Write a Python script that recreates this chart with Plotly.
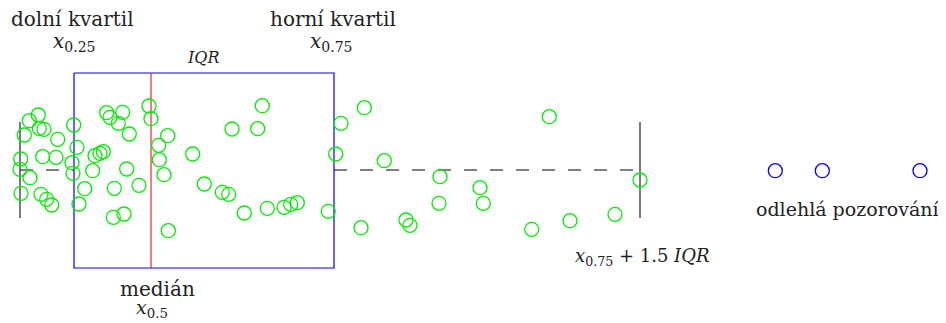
import plotly.graph_objects as go

# jittered observations (x value, vertical jitter) in chart units
obs_x = [38.3, 29.3, 39.3, 44.0, 24.3, 57.7, 20.7, 42.7, 56.0, 20.0, 30.0, 21.0, 41.0, 46.7, 51.7,
         73.7, 77.0, 72.0, 73.0, 84.7, 79.0, 106.7, 110.0, 122.7, 118.3, 129.3, 95.0, 100.0, 103.3,
         92.7, 126.7, 114.3, 139.0, 113.3, 124.0, 149.0, 151.0, 167.7, 158.7, 159.3, 164.0, 168.3,
         192.7, 204.3, 222.3, 228.7, 244.3, 232.0, 257.7, 262.3, 267.3, 284.0, 290.7, 297.3, 328.3,
         335.7, 341.0, 364.3, 384.3, 361.0, 406.0, 410.0, 440.0, 439.0, 480.0, 483.3, 531.7, 549.3,
         570.0, 615.0, 640.0]
obs_y = [115.0, 120.7, 128.3, 129.3, 135.0, 139.3, 159.0, 156.7, 157.3, 169.3, 177.7, 193.3, 194.3, 199.3, 205.0,
         125.0, 147.3, 162.7, 173.3, 188.7, 204.0, 112.7, 117.3, 112.3, 123.3, 134.0, 155.7, 153.3, 151.7,
         170.7, 169.0, 188.3, 185.3, 217.3, 214.0, 106.0, 118.7, 135.7, 145.3, 159.7, 174.7, 230.7,
         154.0, 184.0, 192.3, 194.3, 213.0, 129.0, 128.7, 105.7, 208.3, 207.3, 204.3, 202.7, 211.3,
         154.0, 123.3, 107.7, 160.7, 227.7, 220.0, 225.3, 176.7, 203.3, 187.7, 203.3, 229.3, 116.7,
         220.7, 214.3, 180.0]

outlier_x = [775.3, 822.3, 920.0]
outlier_y = [170.7, 170.7, 170.7]

# box statistics
whisker_low = 20
q1 = 74
median = 151
q3 = 334
whisker_high = 640
center = 170
box_top, box_bottom = 73, 268
whisker_top, whisker_bottom = 122, 218

fig = go.Figure()

# dashed whiskers
fig.add_trace(go.Scatter(x=[whisker_low, q1], y=[center, center], mode="lines",
                         line=dict(color="black", width=1.2, dash="13px,13px"), hoverinfo="skip"))
fig.add_trace(go.Scatter(x=[q3, whisker_high], y=[center, center], mode="lines",
                         line=dict(color="black", width=1.2, dash="13px,13px"), hoverinfo="skip"))
# whisker ends
for wx in (whisker_low, whisker_high):
    fig.add_trace(go.Scatter(x=[wx, wx], y=[whisker_top, whisker_bottom], mode="lines",
                             line=dict(color="#333333", width=1.3), hoverinfo="skip"))
# box
fig.add_trace(go.Scatter(x=[q1, q3, q3, q1, q1], y=[box_top, box_top, box_bottom, box_bottom, box_top],
                         mode="lines", line=dict(color="#0000ff", width=1.2), hoverinfo="skip"))
# median
fig.add_trace(go.Scatter(x=[median, median], y=[box_top, box_bottom], mode="lines",
                         line=dict(color="#e00000", width=1), hoverinfo="skip"))
# observations
fig.add_trace(go.Scatter(x=obs_x, y=obs_y, mode="markers",
                         marker=dict(symbol="circle-open", size=14, color="#00ee00",
                                     line=dict(width=1.3, color="#00ee00"))))
fig.add_trace(go.Scatter(x=outlier_x, y=outlier_y, mode="markers",
                         marker=dict(symbol="circle-open", size=14, color="#0000ff",
                                     line=dict(width=1.3, color="#0000ff"))))

serif = "DejaVu Serif"
labels = [
    (72.5, 19, "dolní kvartil", 20),
    (74, 42, "<i>x</i><sub>0.25</sub>", 20),
    (333, 19, "horní kvartil", 20),
    (331, 42, "<i>x</i><sub>0.75</sub>", 20),
    (203, 57, "<i>IQR</i>", 16),
    (157, 289, "medián", 20),
    (152, 308, "<i>x</i><sub>0.5</sub>", 19),
    (642, 257, "<i>x</i><sub>0.75</sub> + 1.5 <i>IQR</i>", 18),
    (847, 209, "odlehlá pozorování", 19),
]
for lx, ly, txt, fs in labels:
    fig.add_annotation(x=lx, y=ly, text=txt, showarrow=False, xanchor="center", yanchor="middle",
                       font=dict(family=serif, size=fs, color="#222222"))

# the page body adds an 8px margin; the axis ranges start at 8 so that
# one chart unit equals one screen pixel from the window's corner
fig.update_layout(
    width=938, height=315, margin=dict(l=0, r=0, t=0, b=0),
    paper_bgcolor="white", plot_bgcolor="white", showlegend=False,
    font=dict(family=serif),
    xaxis=dict(range=[8, 946], visible=False, fixedrange=True),
    yaxis=dict(range=[323, 8], visible=False, fixedrange=True),
)

fig.write_html("out.html")
